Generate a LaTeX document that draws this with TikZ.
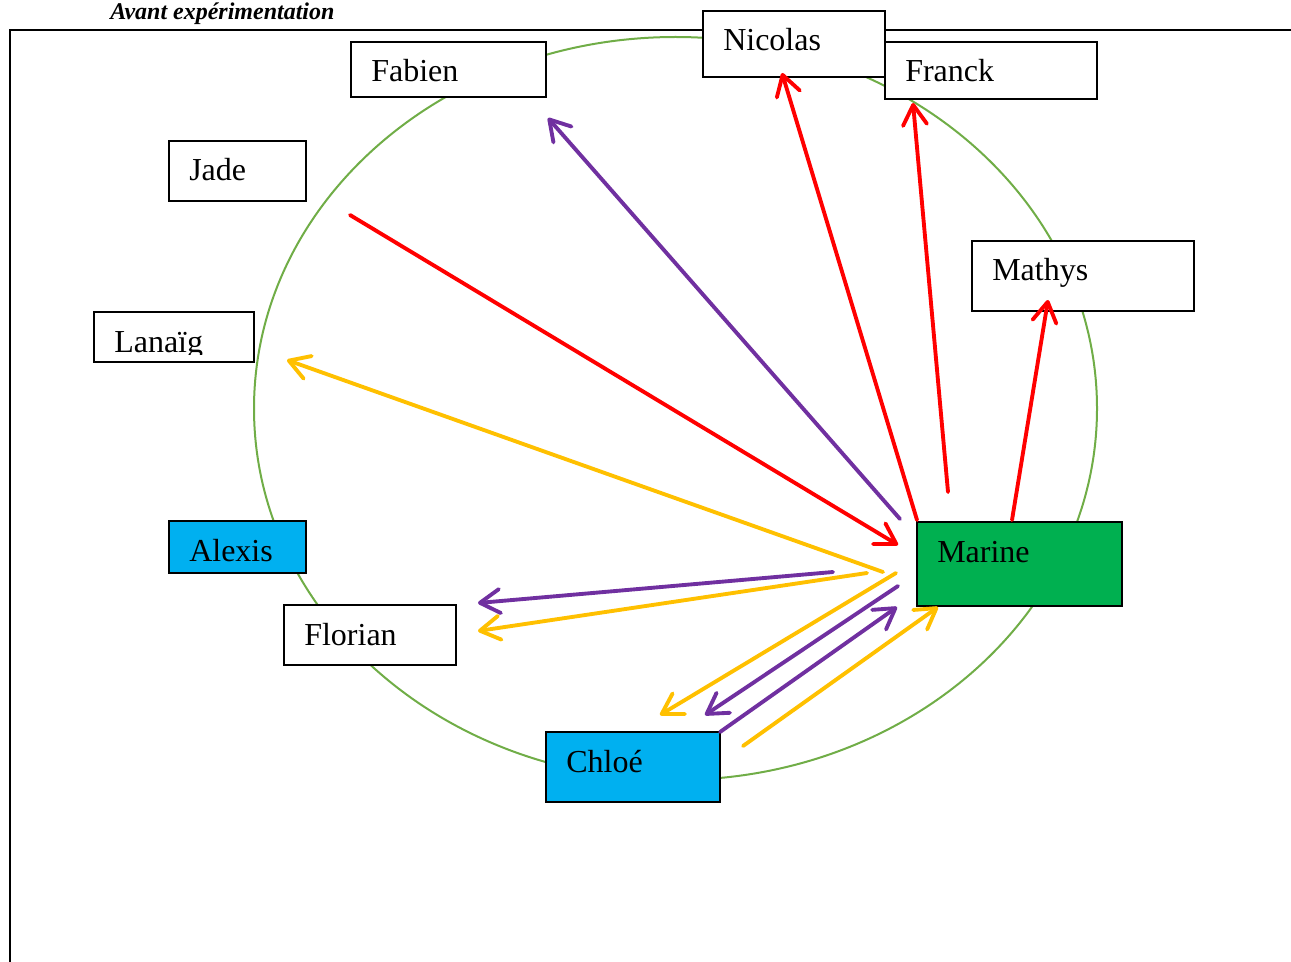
\documentclass[tikz,border=0pt]{standalone}
\usepackage{fontspec}
\setmainfont{Liberation Serif}
\usetikzlibrary{arrows.meta}
\definecolor{ellgreen}{HTML}{70AD47}
\definecolor{cyanbox}{HTML}{00B0F0}
\definecolor{greenbox}{HTML}{00B050}
\definecolor{redA}{HTML}{FF0000}
\definecolor{purpA}{HTML}{7030A0}
\definecolor{yelA}{HTML}{FFC000}
\newcommand\namedbox[7]{%
  \node[namebox, fill=#6, minimum width={(#4-#2)*0.75pt}, minimum height={(#5-#3)*0.75pt}] (#1) at (#2,#3) {};
  \node[namelabel] (#1t) at (#2+20,#3+40) {#7};}
\begin{document}
\begin{tikzpicture}[x=0.75pt,y=-0.75pt,
  namebox/.style={draw=black, line width=1.4pt, rectangle, inner sep=0pt, outer sep=0pt, anchor=north west},
  namelabel/.style={anchor=base west, inner sep=0pt, font=\fontsize{24}{28}\selectfont},
  conn/.style={line width=2.9pt, line cap=round, -{Straight Barb[length=15pt,width=18pt,round]}},
]
\useasboundingbox (0,0) rectangle (1291,962);
% frame
\draw[line width=2.2pt] (10,962) -- (10,30) -- (1291,30);
\node[anchor=base west, inner sep=0pt, font=\fontsize{18}{20}\selectfont\bfseries\itshape] (title) at (110,20) {Avant expérimentation};
% ellipse
\draw[ellgreen, line width=1.5pt] (675.5,408.5) ellipse [x radius=421.5, y radius=371.5];
% boxes
\namedbox{fabien}{351}{42}{546}{97}{white}{Fabien}
\namedbox{franck}{885}{42}{1097}{99}{white}{Franck}
\namedbox{nicolas}{703}{11}{885}{77}{white}{Nicolas}
\namedbox{jade}{169}{141}{306}{201}{white}{Jade}
\namedbox{mathys}{972}{241}{1194}{311}{white}{Mathys}
\node[namebox, fill=white, minimum width={160*0.75pt}, minimum height={50*0.75pt}] (lanaig) at (94,312) {};
\begin{scope}
\clip (94,312) rectangle (254,354);
\node[namelabel] (lanaigt) at (114,352) {Lanaïg};
\end{scope}
\namedbox{alexis}{169}{521}{306}{573}{cyanbox}{Alexis}
\namedbox{florian}{284}{605}{456}{665}{white}{Florian}
\namedbox{chloe}{546}{732}{720}{802}{cyanbox}{Chloé}
\namedbox{marine}{917}{522}{1122}{606}{greenbox}{Marine}
% arrow endpoints
\coordinate (r1s) at (350,215);  \coordinate (r1e) at (898,545);
\coordinate (r2s) at (917,520);  \coordinate (r2e) at (782,73);
\coordinate (r3s) at (948,492);  \coordinate (r3e) at (913,103);
\coordinate (r4s) at (1012,520); \coordinate (r4e) at (1048,300);
\coordinate (p1s) at (900,519);  \coordinate (p1e) at (548,118);
\coordinate (p2s) at (833,572);  \coordinate (p2e) at (478,603);
\coordinate (p3s) at (898,586);  \coordinate (p3e) at (705,715);
\coordinate (p4s) at (720,732);  \coordinate (p4e) at (897,607);
\coordinate (y1s) at (883,572);  \coordinate (y1e) at (287,360);
\coordinate (y2s) at (867,573);  \coordinate (y2e) at (478,631);
\coordinate (y3s) at (896,573);  \coordinate (y3e) at (660,715);
\coordinate (y4s) at (743,746);  \coordinate (y4e) at (938,607);
% arrows
\draw[conn, redA] (r1s) -- (r1e);
\draw[conn, redA] (r2s) -- (r2e);
\draw[conn, redA] (r3s) -- (r3e);
\draw[conn, redA] (r4s) -- (r4e);
\draw[conn, purpA] (p1s) -- (p1e);
\draw[conn, purpA] (p2s) -- (p2e);
\draw[conn, purpA] (p3s) -- (p3e);
\draw[conn, purpA] (p4s) -- (p4e);
\draw[conn, yelA] (y1s) -- (y1e);
\draw[conn, yelA] (y2s) -- (y2e);
\draw[conn, yelA] (y3s) -- (y3e);
\draw[conn, yelA] (y4s) -- (y4e);
\end{tikzpicture}
\end{document}
